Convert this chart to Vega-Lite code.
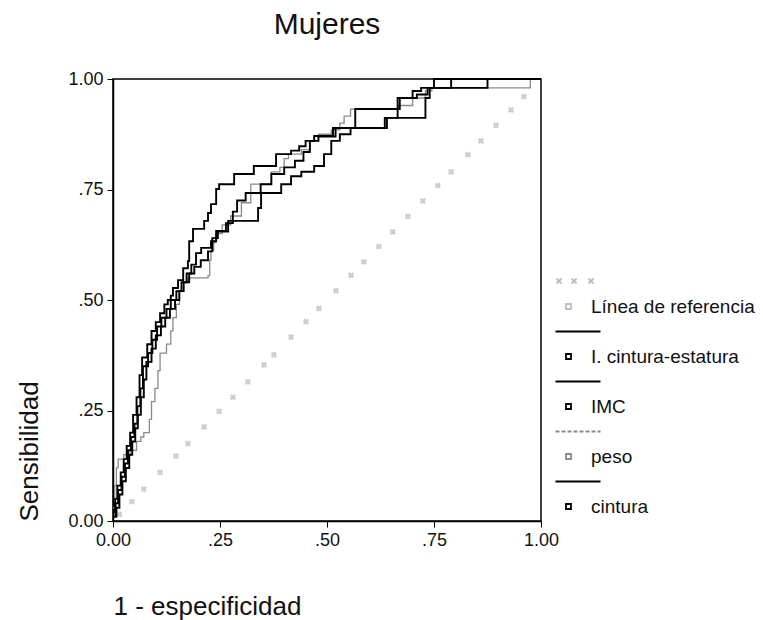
{
  "$schema": "https://vega.github.io/schema/vega-lite/v6.json",
  "width": 428,
  "height": 442,
  "padding": {"left": 16, "top": 10, "right": 5, "bottom": 5},
  "background": "white",
  "title": {"text": "Mujeres", "fontSize": 30, "fontWeight": "normal", "font": "Liberation Sans", "color": "#111", "baseline": "alphabetic", "offset": 6, "anchor": "middle"},
  "config": {
    "font": "Liberation Sans",
    "view": {"stroke": "black", "strokeWidth": 1.5},
    "axis": {"grid": false, "domainColor": "black", "domainWidth": 1.5, "tickColor": "black", "tickSize": 6, "labelColor": "#111", "labelFontSize": 18, "titleColor": "#111", "titleFontSize": 26, "titleFontWeight": "normal", "labelPadding": 4},
    "legend": {"orient": "none", "legendX": 446, "legendY": 218, "symbolSize": 4, "symbolStrokeWidth": 1.8, "symbolOpacity": 1, "labelFontSize": 19, "labelColor": "#111", "labelOffset": 13, "rowPadding": 10, "labelLimit": 300}
  },
  "datasets": {
    "roc": [
      {"s":"I. cintura-estatura","x":0,"y":0.02},{"s":"I. cintura-estatura","x":0.005,"y":0.05},{"s":"I. cintura-estatura","x":0.01,"y":0.08},{"s":"I. cintura-estatura","x":0.018,"y":0.11},{"s":"I. cintura-estatura","x":0.025,"y":0.14},{"s":"I. cintura-estatura","x":0.032,"y":0.17},{"s":"I. cintura-estatura","x":0.04,"y":0.2},{"s":"I. cintura-estatura","x":0.047,"y":0.24},{"s":"I. cintura-estatura","x":0.055,"y":0.28},{"s":"I. cintura-estatura","x":0.062,"y":0.33},{"s":"I. cintura-estatura","x":0.068,"y":0.37},{"s":"I. cintura-estatura","x":0.08,"y":0.4},{"s":"I. cintura-estatura","x":0.09,"y":0.43},{"s":"I. cintura-estatura","x":0.1,"y":0.45},{"s":"I. cintura-estatura","x":0.11,"y":0.47},{"s":"I. cintura-estatura","x":0.12,"y":0.49},{"s":"I. cintura-estatura","x":0.128,"y":0.5},{"s":"I. cintura-estatura","x":0.135,"y":0.51},{"s":"I. cintura-estatura","x":0.14,"y":0.527},{"s":"I. cintura-estatura","x":0.152,"y":0.545},{"s":"I. cintura-estatura","x":0.164,"y":0.572},{"s":"I. cintura-estatura","x":0.175,"y":0.588},{"s":"I. cintura-estatura","x":0.178,"y":0.633},{"s":"I. cintura-estatura","x":0.187,"y":0.661},{"s":"I. cintura-estatura","x":0.213,"y":0.679},{"s":"I. cintura-estatura","x":0.222,"y":0.697},{"s":"I. cintura-estatura","x":0.229,"y":0.717},{"s":"I. cintura-estatura","x":0.241,"y":0.751},{"s":"I. cintura-estatura","x":0.248,"y":0.762},{"s":"I. cintura-estatura","x":0.283,"y":0.785},{"s":"I. cintura-estatura","x":0.329,"y":0.803},{"s":"I. cintura-estatura","x":0.381,"y":0.83},{"s":"I. cintura-estatura","x":0.416,"y":0.838},{"s":"I. cintura-estatura","x":0.435,"y":0.848},{"s":"I. cintura-estatura","x":0.45,"y":0.86},{"s":"I. cintura-estatura","x":0.47,"y":0.871},{"s":"I. cintura-estatura","x":0.514,"y":0.889},{"s":"I. cintura-estatura","x":0.566,"y":0.932},{"s":"I. cintura-estatura","x":0.67,"y":0.957},{"s":"I. cintura-estatura","x":0.7,"y":0.973},{"s":"I. cintura-estatura","x":0.72,"y":0.98},{"s":"I. cintura-estatura","x":0.75,"y":1},{"s":"I. cintura-estatura","x":1,"y":1},
      {"s":"IMC","x":0,"y":0.01},{"s":"IMC","x":0.006,"y":0.04},{"s":"IMC","x":0.012,"y":0.07},{"s":"IMC","x":0.02,"y":0.1},{"s":"IMC","x":0.028,"y":0.13},{"s":"IMC","x":0.035,"y":0.16},{"s":"IMC","x":0.042,"y":0.19},{"s":"IMC","x":0.05,"y":0.22},{"s":"IMC","x":0.057,"y":0.26},{"s":"IMC","x":0.064,"y":0.3},{"s":"IMC","x":0.07,"y":0.35},{"s":"IMC","x":0.082,"y":0.38},{"s":"IMC","x":0.092,"y":0.41},{"s":"IMC","x":0.103,"y":0.44},{"s":"IMC","x":0.113,"y":0.46},{"s":"IMC","x":0.125,"y":0.48},{"s":"IMC","x":0.135,"y":0.5},{"s":"IMC","x":0.148,"y":0.52},{"s":"IMC","x":0.16,"y":0.54},{"s":"IMC","x":0.172,"y":0.56},{"s":"IMC","x":0.183,"y":0.58},{"s":"IMC","x":0.194,"y":0.606},{"s":"IMC","x":0.206,"y":0.618},{"s":"IMC","x":0.229,"y":0.633},{"s":"IMC","x":0.241,"y":0.656},{"s":"IMC","x":0.264,"y":0.674},{"s":"IMC","x":0.28,"y":0.7},{"s":"IMC","x":0.29,"y":0.725},{"s":"IMC","x":0.31,"y":0.742},{"s":"IMC","x":0.345,"y":0.762},{"s":"IMC","x":0.37,"y":0.785},{"s":"IMC","x":0.4,"y":0.8},{"s":"IMC","x":0.425,"y":0.815},{"s":"IMC","x":0.445,"y":0.835},{"s":"IMC","x":0.46,"y":0.86},{"s":"IMC","x":0.48,"y":0.87},{"s":"IMC","x":0.52,"y":0.889},{"s":"IMC","x":0.635,"y":0.912},{"s":"IMC","x":0.665,"y":0.957},{"s":"IMC","x":0.71,"y":0.965},{"s":"IMC","x":0.735,"y":0.98},{"s":"IMC","x":0.79,"y":1},{"s":"IMC","x":1,"y":1},
      {"s":"cintura","x":0,"y":0.01},{"s":"cintura","x":0.008,"y":0.03},{"s":"cintura","x":0.015,"y":0.06},{"s":"cintura","x":0.022,"y":0.09},{"s":"cintura","x":0.03,"y":0.12},{"s":"cintura","x":0.038,"y":0.15},{"s":"cintura","x":0.045,"y":0.18},{"s":"cintura","x":0.052,"y":0.21},{"s":"cintura","x":0.058,"y":0.24},{"s":"cintura","x":0.065,"y":0.28},{"s":"cintura","x":0.072,"y":0.32},{"s":"cintura","x":0.078,"y":0.36},{"s":"cintura","x":0.09,"y":0.39},{"s":"cintura","x":0.1,"y":0.42},{"s":"cintura","x":0.112,"y":0.44},{"s":"cintura","x":0.122,"y":0.46},{"s":"cintura","x":0.133,"y":0.48},{"s":"cintura","x":0.145,"y":0.5},{"s":"cintura","x":0.155,"y":0.52},{"s":"cintura","x":0.165,"y":0.54},{"s":"cintura","x":0.178,"y":0.56},{"s":"cintura","x":0.19,"y":0.575},{"s":"cintura","x":0.205,"y":0.59},{"s":"cintura","x":0.222,"y":0.61},{"s":"cintura","x":0.232,"y":0.64},{"s":"cintura","x":0.245,"y":0.655},{"s":"cintura","x":0.269,"y":0.679},{"s":"cintura","x":0.339,"y":0.708},{"s":"cintura","x":0.346,"y":0.742},{"s":"cintura","x":0.393,"y":0.762},{"s":"cintura","x":0.416,"y":0.78},{"s":"cintura","x":0.44,"y":0.79},{"s":"cintura","x":0.47,"y":0.803},{"s":"cintura","x":0.493,"y":0.83},{"s":"cintura","x":0.51,"y":0.86},{"s":"cintura","x":0.53,"y":0.875},{"s":"cintura","x":0.555,"y":0.889},{"s":"cintura","x":0.64,"y":0.912},{"s":"cintura","x":0.73,"y":0.957},{"s":"cintura","x":0.74,"y":0.98},{"s":"cintura","x":0.875,"y":1},{"s":"cintura","x":1,"y":1},
      {"s":"peso","x":0,"y":0.03},{"s":"peso","x":0.004,"y":0.08},{"s":"peso","x":0.008,"y":0.12},{"s":"peso","x":0.012,"y":0.14},{"s":"peso","x":0.025,"y":0.15},{"s":"peso","x":0.04,"y":0.16},{"s":"peso","x":0.055,"y":0.18},{"s":"peso","x":0.065,"y":0.19},{"s":"peso","x":0.072,"y":0.2},{"s":"peso","x":0.085,"y":0.23},{"s":"peso","x":0.09,"y":0.27},{"s":"peso","x":0.098,"y":0.3},{"s":"peso","x":0.105,"y":0.34},{"s":"peso","x":0.11,"y":0.38},{"s":"peso","x":0.125,"y":0.4},{"s":"peso","x":0.135,"y":0.43},{"s":"peso","x":0.14,"y":0.46},{"s":"peso","x":0.148,"y":0.49},{"s":"peso","x":0.155,"y":0.52},{"s":"peso","x":0.165,"y":0.54},{"s":"peso","x":0.175,"y":0.55},{"s":"peso","x":0.222,"y":0.555},{"s":"peso","x":0.226,"y":0.59},{"s":"peso","x":0.229,"y":0.611},{"s":"peso","x":0.235,"y":0.63},{"s":"peso","x":0.24,"y":0.65},{"s":"peso","x":0.255,"y":0.67},{"s":"peso","x":0.275,"y":0.69},{"s":"peso","x":0.3,"y":0.72},{"s":"peso","x":0.322,"y":0.762},{"s":"peso","x":0.37,"y":0.79},{"s":"peso","x":0.39,"y":0.8},{"s":"peso","x":0.4,"y":0.82},{"s":"peso","x":0.41,"y":0.83},{"s":"peso","x":0.44,"y":0.84},{"s":"peso","x":0.46,"y":0.86},{"s":"peso","x":0.48,"y":0.875},{"s":"peso","x":0.51,"y":0.885},{"s":"peso","x":0.53,"y":0.9},{"s":"peso","x":0.54,"y":0.916},{"s":"peso","x":0.555,"y":0.932},{"s":"peso","x":0.666,"y":0.94},{"s":"peso","x":0.7,"y":0.957},{"s":"peso","x":0.73,"y":0.973},{"s":"peso","x":0.745,"y":0.98},{"s":"peso","x":0.975,"y":1},{"s":"peso","x":1,"y":1}
    ],
    "ref": [
      {"x":0.015,"y":0.015},{"x":0.044,"y":0.044},{"x":0.072,"y":0.072},{"x":0.11,"y":0.11},{"x":0.147,"y":0.147},{"x":0.175,"y":0.175},{"x":0.213,"y":0.213},{"x":0.248,"y":0.248},{"x":0.28,"y":0.28},{"x":0.315,"y":0.315},{"x":0.353,"y":0.353},{"x":0.376,"y":0.376},{"x":0.416,"y":0.416},{"x":0.451,"y":0.451},{"x":0.481,"y":0.481},{"x":0.521,"y":0.521},{"x":0.556,"y":0.556},{"x":0.586,"y":0.586},{"x":0.621,"y":0.621},{"x":0.654,"y":0.654},{"x":0.689,"y":0.689},{"x":0.724,"y":0.724},{"x":0.759,"y":0.759},{"x":0.79,"y":0.79},{"x":0.829,"y":0.829},{"x":0.86,"y":0.86},{"x":0.895,"y":0.895},{"x":0.93,"y":0.93},{"x":0.96,"y":0.96}
    ],
    "leyenda": [
      {"s":"Línea de referencia"},{"s":"I. cintura-estatura"},{"s":"IMC"},{"s":"peso"},{"s":"cintura"}
    ]
  },
  "layer": [
    {
      "data": {"name": "ref"},
      "mark": {"type": "point", "shape": "cross", "angle": 45, "filled": true, "size": 40, "color": "#c4c4c4", "opacity": 0.85},
      "encoding": {
        "x": {"field": "x", "type": "quantitative", "scale": {"domain": [0, 1], "nice": false, "zero": false},
              "axis": {"values": [0, 0.25, 0.5, 0.75, 1], "labelExpr": "datum.value == 0 ? '0.00' : datum.value == 1 ? '1.00' : slice(format(datum.value, '.2f'), 1)", "title": "1 - especificidad", "titleAnchor": "start", "titleAlign": "left", "titlePadding": 44, "labelFlush": false}},
        "y": {"field": "y", "type": "quantitative", "scale": {"domain": [0, 1], "nice": false, "zero": false},
              "axis": {"values": [0, 0.25, 0.5, 0.75, 1], "labelExpr": "datum.value == 0 ? '0.00' : datum.value == 1 ? '1.00' : slice(format(datum.value, '.2f'), 1)", "title": "Sensibilidad", "titleAnchor": "start", "titlePadding": 25, "labelFlush": false}}
      }
    },
    {
      "data": {"name": "roc"},
      "transform": [{"filter": "datum.s == 'peso'"}],
      "mark": {"type": "line", "interpolate": "step-after", "color": "#8a8a8a", "strokeWidth": 1.3},
      "encoding": {
        "x": {"field": "x", "type": "quantitative"},
        "y": {"field": "y", "type": "quantitative"},
        "detail": {"field": "s"}
      }
    },
    {
      "data": {"name": "roc"},
      "transform": [{"filter": "datum.s != 'peso'"}],
      "mark": {"type": "line", "interpolate": "step-after", "color": "#000000", "strokeWidth": 1.9},
      "encoding": {
        "x": {"field": "x", "type": "quantitative"},
        "y": {"field": "y", "type": "quantitative"},
        "detail": {"field": "s"}
      }
    },
    {
      "data": {"name": "leyenda"},
      "mark": {"type": "point", "filled": false, "opacity": 0},
      "encoding": {
        "color": {"field": "s", "type": "nominal", "title": null,
                  "scale": {"domain": ["Línea de referencia", "I. cintura-estatura", "IMC", "peso", "cintura"], "range": ["#bdbdbd", "#000000", "#000000", "#8a8a8a", "#000000"]}},
        "shape": {"field": "s", "type": "nominal", "title": null,
                  "scale": {"domain": ["Línea de referencia", "I. cintura-estatura", "IMC", "peso", "cintura"],
                            "range": [
                              "M-12,-28L-7,-23M-12,-23L-7,-28M3,-28L8,-23M3,-23L8,-28M20,-28L25,-23M20,-23L25,-28M-2.5,-2.5H2.5V2.5H-2.5Z",
                              "M-13,-25H32M-2.5,-2.5H2.5V2.5H-2.5Z",
                              "M-13,-25H32M-2.5,-2.5H2.5V2.5H-2.5Z",
                              "M-13,-25H-9M-7,-25H-3M-1,-25H3M5,-25H9M11,-25H15M17,-25H21M23,-25H27M29,-25H32M-2.5,-2.5H2.5V2.5H-2.5Z",
                              "M-13,-25H32M-2.5,-2.5H2.5V2.5H-2.5Z"
                            ]}}
      }
    }
  ]
}
